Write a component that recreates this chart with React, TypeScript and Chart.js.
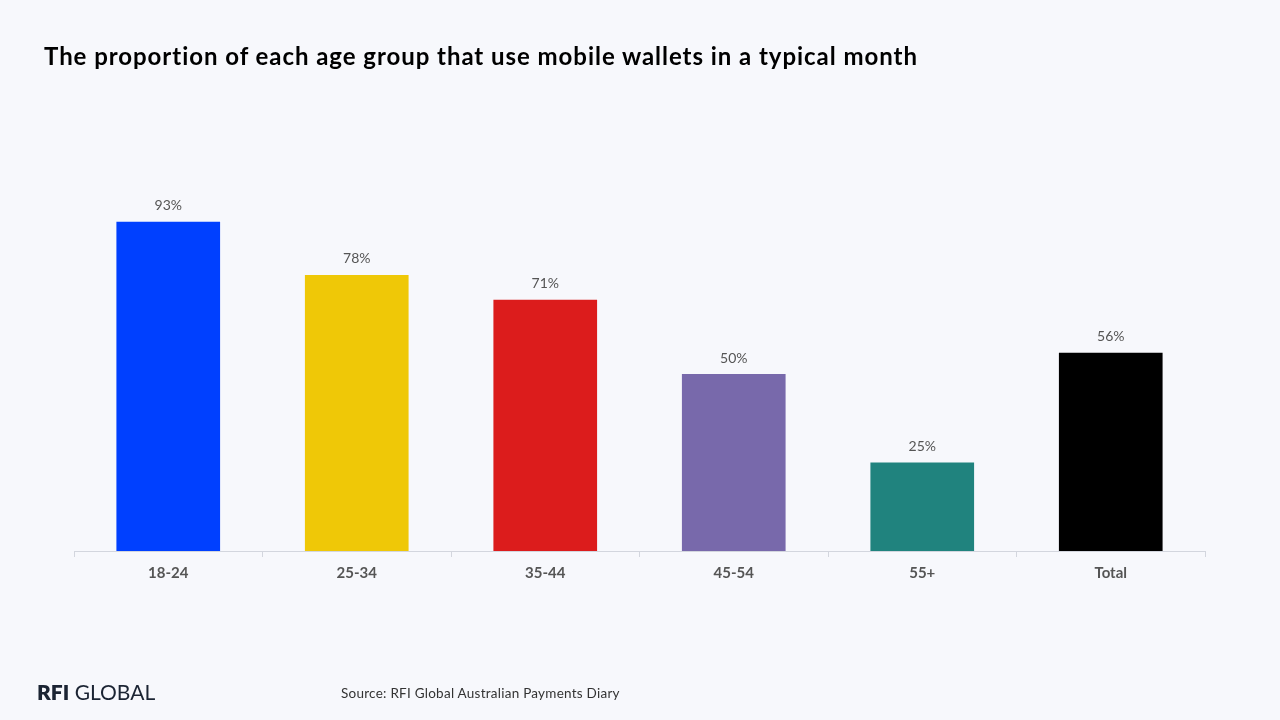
import React, { useEffect, useRef } from "react";
import { Chart, registerables } from "chart.js";

Chart.register(...registerables);

const categories = ["18-24", "25-34", "35-44", "45-54", "55+", "Total"];
const values = [93, 78, 71, 50, 25, 56];
const barColors = ["#0040ff", "#efc807", "#dc1c1c", "#7869ab", "#20837e", "#000000"];
const titleText = "The proportion of each age group that use mobile wallets in a typical month";
const sourceText = "Source: RFI Global Australian Payments Diary";

const valueLabels = {
  id: "valueLabels",
  afterDatasetsDraw(chart: any) {
    const ctx = chart.ctx;
    const meta = chart.getDatasetMeta(0);
    ctx.save();
    ctx.font = "14px Lato";
    ctx.fillStyle = "#555555";
    ctx.textAlign = "center";
    ctx.textBaseline = "middle";
    meta.data.forEach((bar: any, i: number) => {
      ctx.fillText(values[i] + "%", bar.x, bar.y - 16);
    });
    ctx.restore();
  },
};

export default function App() {
  const ref = useRef<HTMLCanvasElement | null>(null);
  useEffect(() => {
    if (!ref.current) return;
    const chart = new Chart(ref.current, {
      type: "bar",
      data: {
        labels: categories,
        datasets: [
          {
            data: values,
            backgroundColor: barColors,
            barPercentage: 0.55,
            categoryPercentage: 1,
          },
        ],
      },
      options: {
        animation: false,
        responsive: false,
        maintainAspectRatio: false,
        layout: { padding: { left: 74, right: 75, top: 197, bottom: 131 } },
        plugins: { legend: { display: false }, tooltip: { enabled: false } },
        scales: {
          x: {
            grid: { display: true, drawOnChartArea: false, tickLength: 6, color: "#d3d6de", offset: true },
            border: { display: true, color: "#d3d6de" },
            ticks: { color: "#555555", font: { family: "Lato", size: 15, weight: "bold" }, padding: 7 },
          },
          y: { display: false, min: 0, max: 100 },
        },
      },
      plugins: [valueLabels],
    });
    return () => chart.destroy();
  }, []);
  return (
    <div style={{ position: "absolute", left: 0, top: 0, width: 1280, height: 720, background: "#f7f8fc", overflow: "hidden" }}>
      <canvas ref={ref} width={1280} height={720} style={{ position: "absolute", left: 0, top: 0 }} />
      <div style={{ position: "absolute", left: 44, top: 41, fontFamily: "Lato", fontWeight: 700, fontSize: 24, letterSpacing: 0.95, color: "#000", whiteSpace: "nowrap", lineHeight: "30px" }}>
        {titleText}
      </div>
      <div style={{ position: "absolute", left: 37, top: 680, fontFamily: "Lato", fontSize: 21, color: "#1b2433", whiteSpace: "nowrap", lineHeight: "24px", letterSpacing: 0 }}>
        <span style={{ fontWeight: 800 }}>RFI</span> GLOBAL
      </div>
      <div style={{ position: "absolute", left: 341, top: 684, fontFamily: "Lato", fontSize: 13.5, letterSpacing: 0.25, color: "#333", whiteSpace: "nowrap", lineHeight: "18px" }}>
        {sourceText}
      </div>
    </div>
  );
}
